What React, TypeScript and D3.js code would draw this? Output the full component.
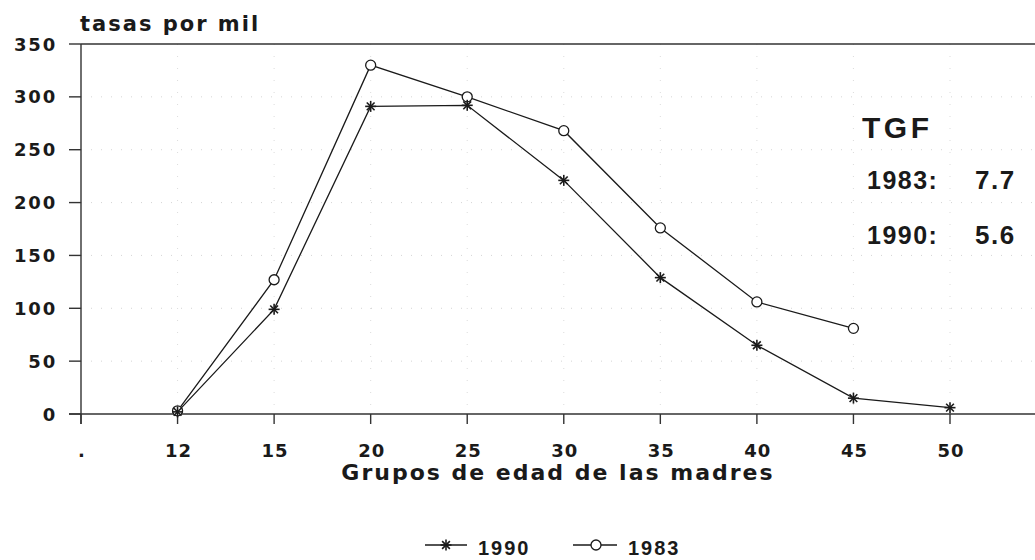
import React from "react";
import * as d3 from "d3";

const categories = [".", "12", "15", "20", "25", "30", "35", "40", "45", "50"];
const yTicks = [0, 50, 100, 150, 200, 250, 300, 350];
const series1990Cats = ["12", "15", "20", "25", "30", "35", "40", "45", "50"];
const series1990 = [2, 99, 291, 292, 221, 129, 65, 15, 6];
const series1983Cats = ["12", "15", "20", "25", "30", "35", "40", "45"];
const series1983 = [3, 127, 330, 300, 268, 176, 106, 81];
const tgfLabels = ["1983:", "1990:"];
const tgfValues = ["7.7", "5.6"];

const W = 1035;
const H = 560;
const FONT = "'Liberation Sans', Arial, Helvetica, sans-serif";
const WIDE = "'DejaVu Sans', Verdana, sans-serif";
const INK = "#1a1a1a";

function Star({ x, y, r = 5.5 }: { x: number; y: number; r?: number }) {
  const lines = [0, 45, 90, 135].map((a) => {
    const rad = (a * Math.PI) / 180;
    return (
      <line
        key={a}
        x1={x - r * Math.cos(rad)}
        y1={y - r * Math.sin(rad)}
        x2={x + r * Math.cos(rad)}
        y2={y + r * Math.sin(rad)}
        stroke={INK}
        strokeWidth={1.6}
      />
    );
  });
  return <g>{lines}</g>;
}

export default function App() {
  const x = d3.scalePoint<string>().domain(categories).range([81, 950]);
  const y = d3.scaleLinear().domain([0, 350]).range([414, 44]);
  const line = d3
    .line<[string, number]>()
    .x((d) => x(d[0]) as number)
    .y((d) => y(d[1]));
  const d1990: [string, number][] = series1990Cats.map((c, i) => [c, series1990[i]]);
  const d1983: [string, number][] = series1983Cats.map((c, i) => [c, series1983[i]]);
  const x0 = x(categories[0]) as number;

  return (
    <svg
      width={W}
      height={H}
      style={{ position: "absolute", left: 0, top: 0, background: "#fff" }}
      fontFamily={FONT}
    >
      <rect width={W} height={H} fill="#fff" />
      {/* faint dotted grid */}
      {yTicks.slice(1, -1).map((t) => (
        <line
          key={"gy" + t}
          x1={x0}
          x2={W}
          y1={y(t)}
          y2={y(t)}
          stroke="#bbb"
          strokeWidth={1}
          strokeDasharray="1 9"
          opacity={0.6}
        />
      ))}
      {categories.slice(1).map((c) => (
        <line
          key={"gx" + c}
          x1={x(c)}
          x2={x(c)}
          y1={y(350)}
          y2={y(0)}
          stroke="#bbb"
          strokeWidth={1}
          strokeDasharray="1 11"
          opacity={0.5}
        />
      ))}
      {/* top frame line */}
      <line x1={x0} x2={W} y1={y(350)} y2={y(350)} stroke="#333" strokeWidth={1.6} />
      {/* y axis */}
      <line x1={x0} x2={x0} y1={y(350)} y2={y(0) + 10} stroke="#333" strokeWidth={1.4} />
      {yTicks.map((t) => (
        <g key={"yt" + t}>
          <line x1={x0 - 12} x2={x0} y1={y(t)} y2={y(t)} stroke="#333" strokeWidth={1.4} />
          <text
            x={57}
            y={y(t) + 6.5}
            textAnchor="end"
            fontFamily={WIDE}
            fontSize={18}
            fontWeight="bold"
            letterSpacing={1.8}
            fill={INK}
          >
            {t}
          </text>
        </g>
      ))}
      {/* x axis */}
      <line x1={x0 - 12} x2={W} y1={y(0)} y2={y(0)} stroke="#333" strokeWidth={1.6} />
      {categories.map((c) => (
        <g key={"xt" + c}>
          <line
            x1={x(c)}
            x2={x(c)}
            y1={y(0)}
            y2={y(0) + 10}
            stroke="#333"
            strokeWidth={1.4}
          />
          <text
            x={(x(c) as number) + 1}
            y={457}
            textAnchor="middle"
            fontFamily={WIDE}
            fontSize={18}
            fontWeight="bold"
            letterSpacing={1}
            fill={INK}
          >
            {c}
          </text>
        </g>
      ))}
      {/* titles */}
      <text
        x={80}
        y={31}
        fontFamily={WIDE}
        fontSize={21}
        fontWeight="bold"
        letterSpacing={2}
        fill={INK}
      >
        tasas por mil
      </text>
      <text
        x={558}
        y={480}
        textAnchor="middle"
        fontFamily={WIDE}
        fontSize={22}
        fontWeight="bold"
        letterSpacing={2}
        fill={INK}
      >
        Grupos de edad de las madres
      </text>
      {/* series lines */}
      <path d={line(d1983) || ""} fill="none" stroke={INK} strokeWidth={1.3} />
      <path d={line(d1990) || ""} fill="none" stroke={INK} strokeWidth={1.3} />
      {d1983.map((d) => (
        <circle
          key={"c" + d[0]}
          cx={x(d[0])}
          cy={y(d[1])}
          r={5}
          fill="#fff"
          stroke={INK}
          strokeWidth={1.3}
        />
      ))}
      {d1990.map((d) => (
        <Star key={"s" + d[0]} x={x(d[0]) as number} y={y(d[1])} />
      ))}
      {/* TGF annotation */}
      <text x={862} y={138} fontSize={30} fontWeight="bold" letterSpacing={3.5} fill={INK}>
        TGF
      </text>
      {tgfLabels.map((l, i) => (
        <g key={l}>
          <text x={867} y={189 + i * 55} fontSize={25} fontWeight="bold" letterSpacing={1.5} fill={INK}>
            {l}
          </text>
          <text x={975} y={189 + i * 55} fontSize={26} fontWeight="bold" letterSpacing={1.5} fill={INK}>
            {tgfValues[i]}
          </text>
        </g>
      ))}
      {/* legend */}
      <line x1={425} x2={467} y1={545} y2={545} stroke={INK} strokeWidth={1.6} />
      <Star x={446} y={545} />
      <text x={478} y={555} fontSize={20} fontWeight="bold" letterSpacing={2} fill={INK}>
        1990
      </text>
      <line x1={573} x2={617} y1={545} y2={545} stroke={INK} strokeWidth={1.6} />
      <circle cx={596} cy={545} r={5} fill="#fff" stroke={INK} strokeWidth={1.3} />
      <text x={628} y={555} fontSize={20} fontWeight="bold" letterSpacing={2} fill={INK}>
        1983
      </text>
    </svg>
  );
}
